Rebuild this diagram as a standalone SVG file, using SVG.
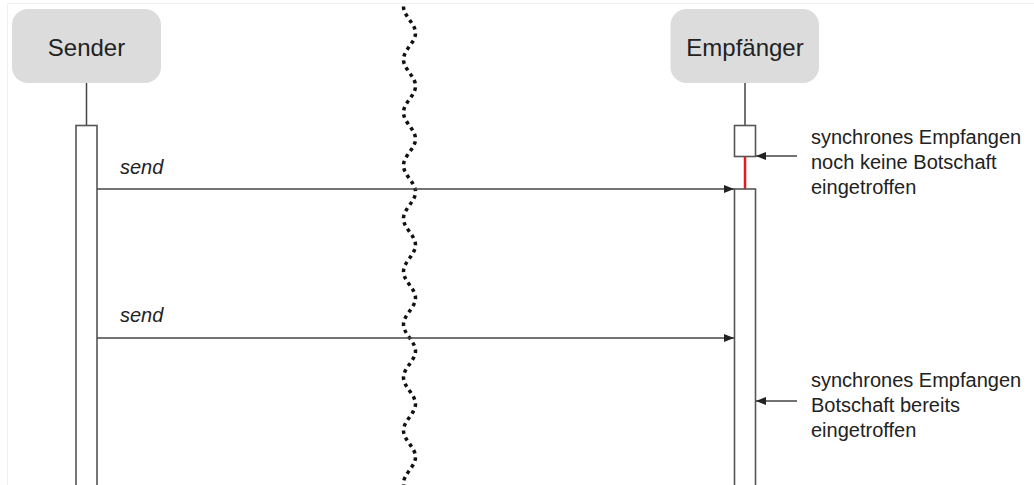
<svg xmlns="http://www.w3.org/2000/svg" width="1034" height="485" viewBox="0 0 1034 485">
<defs>
<marker id="ah" viewBox="0 0 10 8" refX="10" refY="4" markerWidth="10" markerHeight="8" markerUnits="userSpaceOnUse" orient="auto">
<path d="M0,0 L10,4 L0,8 z" fill="#222"/>
</marker>
<style>
.actor{fill:#dcdcdc;stroke:none}
.actor-label{font-family:"Liberation Sans",Arial,sans-serif;font-size:24px;fill:#222;text-anchor:middle}
.life{stroke:#444;stroke-width:1.5;fill:none}
.act{fill:#fff;stroke:#555;stroke-width:1.6}
.msg{stroke:#444;stroke-width:1.5;fill:none;marker-end:url(#ah)}
.msg-label{font-family:"Liberation Sans",Arial,sans-serif;font-size:20px;font-style:italic;fill:#222}
.note{font-family:"Liberation Sans",Arial,sans-serif;font-size:20px;fill:#222}
.wave{fill:none;stroke:#111;stroke-width:3.5;stroke-dasharray:3.5 4}
</style>
</defs>
<rect x="0" y="0" width="1034" height="485" fill="#fff"/>
<path d="M7.5,485 V3.5 H1034" fill="none" stroke="#f0f0f0" stroke-width="1"/>

<g id="sender">
<rect class="actor" x="12" y="9" width="149" height="74" rx="16"/>
<text class="actor-label" x="86.5" y="56">Sender</text>
<line class="life" x1="86.5" y1="83" x2="86.5" y2="125"/>
<rect class="act" x="76" y="125.5" width="21" height="370"/>
</g>

<g id="empfaenger">
<rect class="actor" x="670.5" y="9" width="148.5" height="74" rx="16"/>
<text class="actor-label" x="745" y="56">Empfänger</text>
<line class="life" x1="745" y1="83" x2="745" y2="125"/>
<rect id="wait-activation" class="act" x="734.5" y="125.5" width="21" height="31"/>
<line x1="745" y1="157" x2="745" y2="189" stroke="#e8191c" stroke-width="2.5"/>
<rect id="receive-activation" class="act" x="734.5" y="189" width="21" height="310"/>
</g>

<g id="divider">
<path class="wave" d="M 403.5 6.5 C 403.5 16.15 415.5 23.35 415.5 33 S 403.5 49.85 403.5 59.5 S 415.5 76.35 415.5 86 S 403.5 102.85 403.5 112.5 S 415.5 129.35 415.5 139 S 403.5 155.85 403.5 165.5 S 415.5 182.35 415.5 192 S 403.5 208.85 403.5 218.5 S 415.5 235.35 415.5 245 S 403.5 261.85 403.5 271.5 S 415.5 288.35 415.5 298 S 403.5 314.85 403.5 324.5 S 415.5 341.35 415.5 351 S 403.5 367.85 403.5 377.5 S 415.5 394.35 415.5 404 S 403.5 420.85 403.5 430.5 S 415.5 447.35 415.5 457 S 403.5 473.85 403.5 483.5 S 415.5 500.35 415.5 510"/>
</g>

<g id="connectors">
<line class="msg" x1="97" y1="189" x2="734" y2="189"/>
<text class="msg-label" x="120" y="174">send</text>
<line class="msg" x1="97" y1="338" x2="734" y2="338"/>
<text class="msg-label" x="120" y="322">send</text>
<line class="msg" x1="797" y1="156" x2="756" y2="156"/>
<line class="msg" x1="797" y1="401" x2="756" y2="401"/>
</g>

<g id="note-1">
<text class="note" x="811" y="144">synchrones Empfangen</text>
<text class="note" x="811" y="169">noch keine Botschaft</text>
<text class="note" x="811" y="194">eingetroffen</text>
</g>
<g id="note-2">
<text class="note" x="811" y="387">synchrones Empfangen</text>
<text class="note" x="811" y="412">Botschaft bereits</text>
<text class="note" x="811" y="437">eingetroffen</text>
</g>
</svg>
